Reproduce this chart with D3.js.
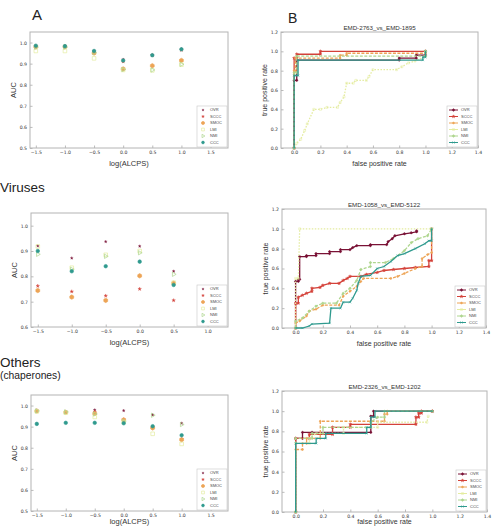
<!DOCTYPE html>
<html>
<head>
<meta charset="utf-8">
<script src="https://cdn.jsdelivr.net/npm/d3@7"></script>
<style>
  body { margin: 0; background: #fff; }
  text { font-family: "Liberation Sans", Arial, sans-serif; }
  .tick text { font-family: "DejaVu Sans", sans-serif; }
</style>
</head>
<body>
<div id="chart"></div>
<script>
const methods = ["OVR", "SCCC", "SMOC", "LMI", "NMI", "CCC"];
const colors = ["#7a1236", "#d4423a", "#eda456", "#e4eca0", "#aed68e", "#2f9a8e"];

// AUC vs log(ALCPS) - rows follow methods order
const alcpsA = [-1.5, -1.0, -0.5, 0.0, 0.5, 1.0];
const aucA = [
  [0.975, 0.980, 0.960, 0.920, 0.940, 0.970],
  [0.980, 0.980, 0.955, 0.910, 0.940, 0.965],
  [0.980, 0.980, 0.950, 0.875, 0.890, 0.915],
  [0.960, 0.960, 0.925, 0.870, 0.868, 0.895],
  [0.978, 0.978, 0.952, 0.872, 0.870, 0.897],
  [0.985, 0.983, 0.960, 0.915, 0.940, 0.968]
];
const alcpsV = [-1.5, -1.0, -0.5, 0.0, 0.5];
const aucV = [
  [0.920, 0.872, 0.937, 0.919, 0.820],
  [0.762, 0.740, 0.723, 0.750, 0.705],
  [0.744, 0.718, 0.705, 0.802, 0.773],
  [0.918, 0.834, 0.885, 0.900, 0.775],
  [0.887, 0.828, 0.879, 0.893, 0.808],
  [0.900, 0.820, 0.840, 0.858, 0.766]
];
const alcpsO = [-1.5, -1.0, -0.5, 0.0, 0.5, 1.0];
const aucO = [
  [0.976, 0.970, 0.979, 0.976, 0.956, 0.916],
  [0.976, 0.970, 0.970, 0.934, 0.895, 0.840],
  [0.974, 0.968, 0.962, 0.932, 0.894, 0.838],
  [0.972, 0.966, 0.946, 0.922, 0.866, 0.818],
  [0.975, 0.970, 0.960, 0.925, 0.954, 0.910],
  [0.913, 0.918, 0.918, 0.916, 0.902, 0.859]
];

// ROC curves [fpr, tpr] - rows follow methods order
const rocB = [
  [[0,0],[0,0.70],[0.02,0.70],[0.02,0.91],[0.80,0.91],[0.80,0.93],[0.93,0.93],[0.93,0.96],[1,0.96],[1,1]],
  [[0,0],[0,0.93],[0.02,0.93],[0.02,0.97],[0.20,0.97],[0.20,1.0],[1,1]],
  [[0,0],[0,0.80],[0.01,0.80],[0.01,0.93],[0.35,0.93],[0.35,0.96],[0.40,0.96],[0.40,0.98],[1,0.98],[1,1]],
  [[0,0],[0.02,0.05],[0.05,0.09],[0.08,0.18],[0.10,0.25],[0.15,0.40],[0.20,0.40],[0.25,0.42],[0.33,0.42],[0.35,0.47],[0.38,0.53],[0.40,0.67],[0.45,0.67],[0.47,0.70],[0.55,0.70],[0.57,0.74],[0.60,0.81],[0.78,0.81],[0.82,0.84],[0.87,0.88],[0.92,0.90],[1,0.95],[1,1]],
  [[0,0],[0,0.78],[0.02,0.78],[0.02,0.95],[1,0.95],[1,1]],
  [[0,0],[0,0.75],[0.03,0.75],[0.03,0.91],[0.98,0.91],[0.98,0.94],[1,0.94],[1,1]]
];
const rocV = [
  [[0,0],[0,0.47],[0.02,0.47],[0.02,0.49],[0.03,0.49],[0.03,0.72],[0.08,0.72],[0.08,0.73],[0.15,0.73],[0.15,0.75],[0.25,0.75],[0.25,0.77],[0.33,0.77],[0.33,0.79],[0.40,0.79],[0.42,0.81],[0.45,0.83],[0.55,0.83],[0.55,0.84],[0.67,0.84],[0.68,0.87],[0.71,0.90],[0.73,0.93],[0.80,0.95],[0.85,0.96],[0.89,0.97],[0.89,0.98]],
  [[0,0],[0,0.25],[0.02,0.25],[0.02,0.31],[0.05,0.33],[0.08,0.35],[0.12,0.37],[0.12,0.40],[0.18,0.41],[0.20,0.43],[0.25,0.45],[0.32,0.45],[0.35,0.48],[0.38,0.50],[0.40,0.52],[0.48,0.52],[0.52,0.54],[0.60,0.56],[0.65,0.58],[0.72,0.59],[0.80,0.60],[0.88,0.61],[0.98,0.62],[0.98,0.68],[1,0.68],[1,1]],
  [[0,0],[0,0.05],[0.03,0.07],[0.08,0.12],[0.10,0.17],[0.15,0.19],[0.20,0.23],[0.32,0.23],[0.35,0.32],[0.40,0.37],[0.45,0.42],[0.48,0.47],[0.50,0.50],[0.70,0.50],[0.75,0.52],[0.80,0.55],[0.88,0.60],[0.93,0.62],[0.93,0.70],[0.97,0.74],[1,0.76],[1,1]],
  [[0,0],[0,0.50],[0.02,0.50],[0.03,1.0],[1,1]],
  [[0,0],[0,0.07],[0.05,0.10],[0.10,0.17],[0.15,0.22],[0.20,0.25],[0.30,0.25],[0.35,0.35],[0.40,0.40],[0.45,0.48],[0.48,0.59],[0.55,0.62],[0.55,0.66],[0.66,0.66],[0.72,0.70],[0.80,0.78],[0.85,0.86],[0.90,0.90],[0.97,0.93],[1,1]],
  [[0,0],[0.05,0],[0.10,0.02],[0.12,0.04],[0.25,0.05],[0.26,0.20],[0.33,0.20],[0.35,0.26],[0.40,0.26],[0.42,0.30],[0.45,0.38],[0.46,0.45],[0.48,0.52],[0.55,0.53],[0.60,0.60],[0.65,0.62],[0.70,0.67],[0.75,0.73],[0.80,0.75],[0.88,0.80],[0.95,0.85],[0.98,0.88],[1,0.88],[1,1]]
];
const rocO = [
  [[0,0],[0,0.73],[0.05,0.73],[0.05,0.79],[0.12,0.79],[0.55,0.79],[0.55,0.95],[0.57,0.95],[0.57,1.0],[1,1]],
  [[0,0],[0,0.73],[0.10,0.73],[0.10,0.77],[0.27,0.77],[0.27,0.84],[0.40,0.84],[0.40,0.87],[0.88,0.87],[0.88,0.94],[0.90,0.94],[0.90,0.98],[0.92,0.98],[0.92,1.0],[1,1]],
  [[0,0],[0,0.62],[0.05,0.62],[0.05,0.68],[0.08,0.68],[0.08,0.73],[0.18,0.73],[0.18,0.90],[0.65,0.90],[0.65,0.97],[0.67,0.97],[0.67,1.0],[1,1]],
  [[0,0],[0,0.68],[0.10,0.68],[0.10,0.73],[0.15,0.78],[0.35,0.78],[0.35,0.84],[0.60,0.84],[0.60,0.89],[0.96,0.89],[0.97,0.95]],
  [[0,0],[0,0.73],[0.12,0.73],[0.12,0.78],[0.20,0.78],[0.20,0.84],[0.55,0.84],[0.55,0.89],[0.60,0.94],[0.65,0.94],[0.65,1.0],[1,1]],
  [[0,0],[0,0.68],[0.15,0.68],[0.15,0.73],[0.22,0.73],[0.22,0.78],[0.52,0.78],[0.52,0.84],[0.55,0.84],[0.55,0.94],[0.58,0.94],[0.58,1.0],[1,1]]
];
const rocTitles = ["EMD-2763_vs_EMD-1895", "EMD-1058_vs_EMD-5122", "EMD-2326_vs_EMD-1202"];

const aucTicksY = [0.5, 0.6, 0.7, 0.8, 0.9, 1.0];
const aucTicksYV = [0.6, 0.7, 0.8, 0.9, 1.0];
const aucTicksX = [-1.5, -1.0, -0.5, 0.0, 0.5, 1.0, 1.5];
const aucTicksXV = [-1.5, -1.0, -0.5, 0.0, 0.5, 1.0];
const rocTicks = [0.0, 0.2, 0.4, 0.6, 0.8, 1.0, 1.2];
const rocTicksX = [0.0, 0.2, 0.4, 0.6, 0.8, 1.0, 1.2, 1.4];

const W = 500, H = 527;
const svg = d3.select("#chart").append("svg")
    .attr("width", W).attr("height", H);

const fmt = d => d3.format(".1f")(d).replace("-", "\u2212");

// custom marker shapes
const hexagon = {
  draw(ctx, size) {
    const r = Math.sqrt(size / 2.6);
    for (let i = 0; i < 6; i++) {
      const a = Math.PI / 6 + i * Math.PI / 3;
      i ? ctx.lineTo(r * Math.cos(a), r * Math.sin(a)) : ctx.moveTo(r * Math.cos(a), r * Math.sin(a));
    }
    ctx.closePath();
  }
};
const triRight = {
  draw(ctx, size) {
    const r = Math.sqrt(size / 1.3);
    ctx.moveTo(r, 0);
    ctx.lineTo(-r * 0.5, -r * 0.87);
    ctx.lineTo(-r * 0.5, r * 0.87);
    ctx.closePath();
  }
};
const scatterSym = [
  {type: d3.symbolStar, size: 2.5, fill: true, sw: 0.3},
  {type: d3.symbolStar, size: 4, fill: true, sw: 0.3},
  {type: hexagon, size: 13, fill: true, sw: 0.6},
  {type: d3.symbolSquare, size: 13, fill: false, sw: 0.7},
  {type: triRight, size: 8, fill: false, sw: 0.7},
  {type: d3.symbolCircle, size: 10, fill: true, sw: 0.6}
];
const rocSym = [
  {type: d3.symbolCross, size: 3, fill: true},
  {type: d3.symbolStar, size: 3, fill: true},
  {type: d3.symbolCircle, size: 3, fill: true},
  {type: d3.symbolSquare, size: 4, fill: false},
  {type: d3.symbolCross, size: 3, fill: true},
  {type: d3.symbolTimes, size: 4, fill: false}
];
const rocDash = [null, null, "3,1.5", "1.5,1.5", "3,1.5", null];

function makeFrame(f, xd, yd, xt, yt) {
  const g = svg.append("g");
  const x = d3.scaleLinear().domain(xd).range([f.x, f.x + f.w]);
  const y = d3.scaleLinear().domain(yd).range([f.y + f.h, f.y]);

  const xa = g.append("g").attr("transform", `translate(0,${f.y + f.h})`)
      .call(d3.axisBottom(x).tickValues(xt).tickFormat(fmt).tickSize(-2.5).tickPadding(3));
  const ya = g.append("g").attr("transform", `translate(${f.x},0)`)
      .call(d3.axisLeft(y).tickValues(yt).tickFormat(fmt).tickSize(-2.5).tickPadding(3));
  [xa, ya].forEach(a => {
    a.select(".domain").remove();
    a.selectAll("line").attr("stroke", "#777").attr("stroke-width", 0.5);
    a.selectAll("text").attr("font-size", 4.6).attr("fill", "#333");
  });

  g.append("rect").attr("x", f.x).attr("y", f.y).attr("width", f.w).attr("height", f.h)
      .attr("fill", "none").attr("stroke", "#b4b4b4").attr("stroke-width", 1);
  return {g, x, y};
}

function axisLabels(f, xl, yl, size, xlY) {
  svg.append("text").attr("x", f.x + f.w / 2).attr("y", xlY || f.y + f.h + 18)
      .attr("text-anchor", "middle").attr("font-size", size).attr("fill", "#333").text(xl);
  svg.append("text").attr("transform", `translate(${f.x - 14},${f.y + f.h / 2}) rotate(-90)`)
      .attr("text-anchor", "middle").attr("font-size", size).attr("fill", "#333").text(yl);
}

function legendBox(f, roc) {
  const lw = 30, lh = 41;
  const lx = f.x + f.w - lw - 1, ly = f.y + f.h - lh - 1;
  const lg = svg.append("g").attr("transform", `translate(${lx},${ly})`);
  lg.append("rect").attr("width", lw).attr("height", lh)
      .attr("fill", "#fff").attr("stroke", "#c8c8c8").attr("stroke-width", 0.6);
  methods.forEach((m, i) => {
    const yy = 4 + i * 6.5;
    if (roc) {
      lg.append("line").attr("x1", 2).attr("x2", 11).attr("y1", yy).attr("y2", yy)
          .attr("stroke", colors[i]).attr("stroke-width", 1);
      lg.append("path").attr("transform", `translate(6.5,${yy})`)
          .attr("d", d3.symbol(rocSym[i].type, rocSym[i].size)())
          .attr("fill", rocSym[i].fill ? colors[i] : "none").attr("stroke", colors[i]).attr("stroke-width", 0.5);
    } else {
      const s = scatterSym[i];
      lg.append("path").attr("transform", `translate(6,${yy})`)
          .attr("d", d3.symbol(s.type, s.size * 0.6)())
          .attr("fill", s.fill ? colors[i] : "none").attr("stroke", colors[i]).attr("stroke-width", s.sw);
    }
    lg.append("text").attr("x", roc ? 14 : 13).attr("y", yy + 1.4)
        .attr("font-size", 4).attr("fill", "#444").text(m);
  });
}

function aucPanel(f, xs, vals, xd, yd, xt, yt, xlY) {
  const {g, x, y} = makeFrame(f, xd, yd, xt, yt);
  vals.forEach((row, i) => {
    const s = scatterSym[i];
    g.selectAll(null).data(row).enter().append("path")
        .attr("transform", (d, j) => `translate(${x(xs[j])},${y(d)})`)
        .attr("d", d3.symbol(s.type, s.size)())
        .attr("fill", s.fill ? colors[i] : "none")
        .attr("stroke", colors[i]).attr("stroke-width", s.sw);
  });
  axisLabels(f, "log(ALCPS)", "AUC", 7.5, xlY);
  legendBox(f, false);
}

function rocPanel(f, curves, title, xlY) {
  const {g, x, y} = makeFrame(f, [-0.1, 1.4], [0, 1.2], rocTicksX, rocTicks);
  const line = d3.line().x(d => x(d[0])).y(d => y(d[1]));
  curves.forEach((pts, i) => {
    g.append("path").datum(pts).attr("d", line)
        .attr("fill", "none").attr("stroke", colors[i]).attr("stroke-width", 1.3)
        .attr("stroke-dasharray", rocDash[i]);
    const s = rocSym[i];
    g.selectAll(null).data(pts).enter().append("path")
        .attr("transform", d => `translate(${x(d[0])},${y(d[1])})`)
        .attr("d", d3.symbol(s.type, s.size)())
        .attr("fill", s.fill ? colors[i] : "none")
        .attr("stroke", colors[i]).attr("stroke-width", 0.5);
  });
  svg.append("text").attr("x", f.x + f.w / 2).attr("y", f.y - 2)
      .attr("text-anchor", "middle").attr("font-size", 6.2).attr("fill", "#333").text(title);
  axisLabels(f, "false positive rate", "true positive rate", 7, xlY);
  legendBox(f, true);
}

// left column
aucPanel({x: 30, y: 32, w: 198, h: 116}, alcpsA, aucA, [-1.6, 1.8], [0.5, 1.05], aucTicksX, aucTicksY);
aucPanel({x: 31, y: 213, w: 197, h: 114}, alcpsV, aucV, [-1.6, 1.3], [0.6, 1.05], aucTicksXV, aucTicksYV);
aucPanel({x: 31, y: 395, w: 197, h: 116}, alcpsO, aucO, [-1.6, 1.8], [0.5, 1.05], aucTicksX, aucTicksY, 524);

// right column
rocPanel({x: 281, y: 32, w: 197, h: 116}, rocB, rocTitles[0]);
rocPanel({x: 282, y: 209, w: 204, h: 119}, rocV, rocTitles[1]);
rocPanel({x: 282, y: 391, w: 205, h: 121}, rocO, rocTitles[2], 524);

// panel letters and group headings
svg.append("text").attr("x", 32).attr("y", 20).attr("font-size", 15).attr("fill", "#222").text("A");
svg.append("text").attr("x", 288).attr("y", 23).attr("font-size", 14).attr("fill", "#222").text("B");
svg.append("text").attr("x", 0).attr("y", 192).attr("font-size", 13.5).attr("fill", "#222").text("Viruses");
svg.append("text").attr("x", 0).attr("y", 366.5).attr("font-size", 13.5).attr("fill", "#222").text("Others");
svg.append("text").attr("x", 0).attr("y", 379).attr("font-size", 10.3).attr("fill", "#222").text("(chaperones)");
</script>
</body>
</html>
